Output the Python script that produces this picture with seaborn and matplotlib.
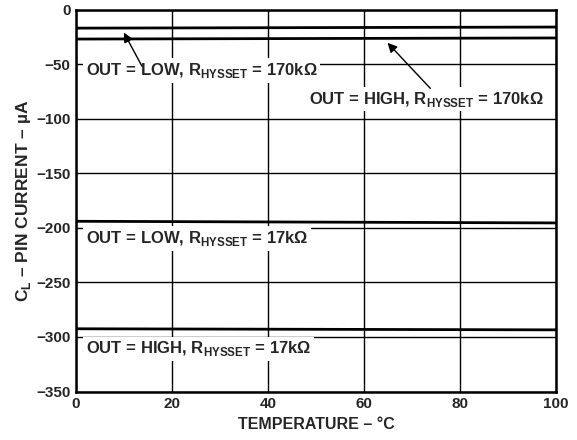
import numpy as np
import pandas as pd
import matplotlib
matplotlib.use('Agg')
import matplotlib.pyplot as plt
import seaborn as sns

# readings (temperature in C, current in uA)
temp = [0, 100]
low_170k = [-17, -16]
high_170k = [-27, -26]
low_17k = [-194, -195.5]
high_17k = [-292.5, -293.5]

df = pd.DataFrame({
    'temp': temp * 4,
    'current': low_170k + high_170k + low_17k + high_17k,
    'curve': ['low_170k'] * 2 + ['high_170k'] * 2 + ['low_17k'] * 2 + ['high_17k'] * 2,
})

sns.set_style('white')
plt.rcParams['font.family'] = ['Liberation Sans', 'DejaVu Sans']
plt.rcParams['font.weight'] = 'bold'
plt.rcParams['mathtext.fontset'] = 'custom'
plt.rcParams['mathtext.sf'] = 'Liberation Sans:bold'
plt.rcParams['mathtext.rm'] = 'Liberation Sans:bold'

fig = plt.figure(figsize=(5.77, 4.4), dpi=100)
ax = fig.add_axes([0.1317, 0.1102, 0.832, 0.868])

g = sns.lineplot(x='temp', y='current', hue='curve', data=df, ax=ax,
                 palette=['black'] * 4, linewidth=2.0, legend=False, zorder=5)

ax.set_xlim(0, 100)
ax.set_ylim(-350, 0)
ax.set_xticks(np.arange(0, 101, 20))
ax.set_yticks(np.arange(-350, 1, 50))
ax.grid(True, color='black', linewidth=1.0)
ax.set_axisbelow(True)
ax.tick_params(length=0, labelsize=11, pad=4)
for lab in ax.get_xticklabels() + ax.get_yticklabels():
    lab.set_fontweight('bold')
for s in ax.spines.values():
    s.set_color('black')
    s.set_linewidth(1.8)

g.set(xlabel='TEMPERATURE \u2013 \u00b0C', ylabel='C$_\\mathsf{L}$ \u2013 PIN CURRENT \u2013 \u00b5A')
ax.xaxis.label.set_size(11.5)
ax.yaxis.label.set_size(12.5)
ax.xaxis.label.set_fontweight('bold')
ax.yaxis.label.set_fontweight('bold')
ax.yaxis.labelpad = 2

box = dict(facecolor='white', edgecolor='none', pad=2)
ax.text(2, -56, 'OUT = LOW, R$_\\mathsf{HYSSET}$ = 170k\u03a9', fontsize=12, fontweight='bold',
        va='center', ha='left', bbox=box, zorder=3)
ax.text(48.5, -82, 'OUT = HIGH, R$_\\mathsf{HYSSET}$ = 170k\u03a9', fontsize=12, fontweight='bold',
        va='center', ha='left', bbox=box, zorder=3)
ax.text(2, -210, 'OUT = LOW, R$_\\mathsf{HYSSET}$ = 17k\u03a9', fontsize=12, fontweight='bold',
        va='center', ha='left', bbox=box, zorder=3)
ax.text(2, -311, 'OUT = HIGH, R$_\\mathsf{HYSSET}$ = 17k\u03a9', fontsize=12, fontweight='bold',
        va='center', ha='left', bbox=box, zorder=3)

arrow = dict(arrowstyle='-|>', color='black', lw=1.0, mutation_scale=14)
ax.annotate('', xy=(9.7, -18.8), xytext=(14, -54), arrowprops=arrow, zorder=6)
ax.annotate('', xy=(64.5, -28.6), xytext=(74.2, -74), arrowprops=arrow, zorder=6)

plt.savefig('out.png', dpi=100)
